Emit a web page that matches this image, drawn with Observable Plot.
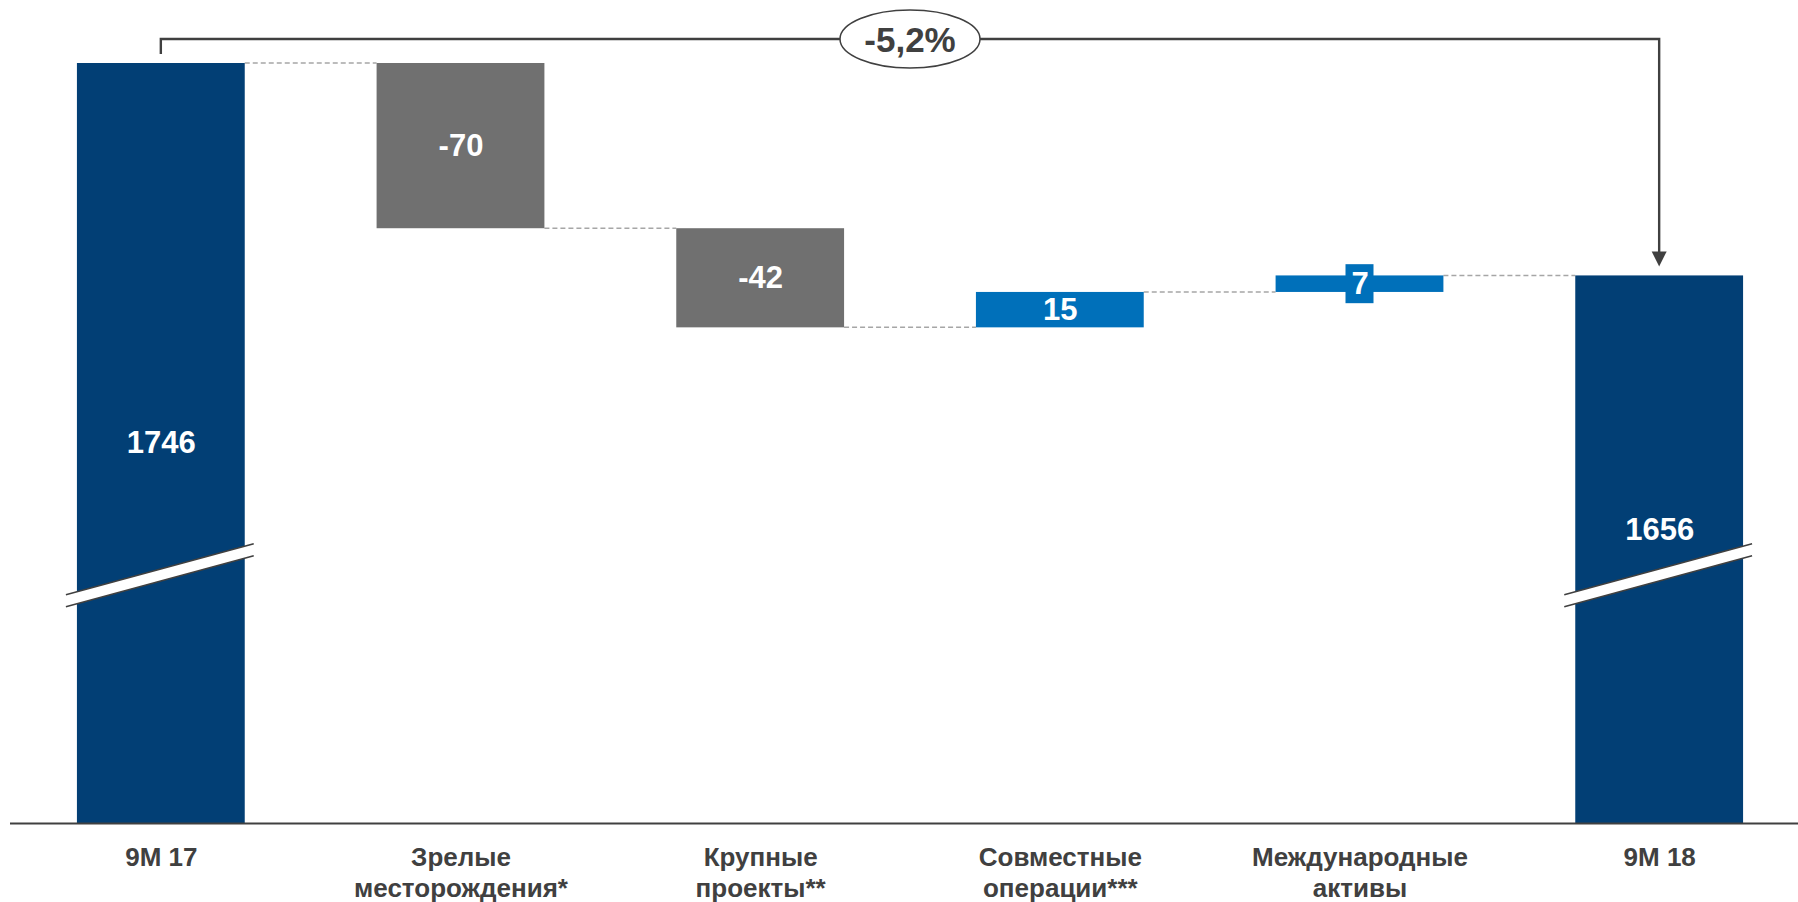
<!DOCTYPE html>
<html><head><meta charset="utf-8">
<script src="https://cdn.jsdelivr.net/npm/d3@7"></script>
<script src="https://cdn.jsdelivr.net/npm/@observablehq/plot@0.6"></script>
<style>
html,body{margin:0;padding:0;background:#fff;}
#chart svg{display:block;}
</style></head><body><div id="chart"></div>
<script>
// ---- data ----
const categories = ["9M 17", "Зрелые месторождения*", "Крупные проекты**", "Совместные операции***", "Международные активы", "9M 18"];
const axisLabels = ["9M 17", "Зрелые\nместорождения*", "Крупные\nпроекты**", "Совместные\nоперации***", "Международные\nактивы", "9M 18"];
const kinds = ["total", "delta", "delta", "delta", "delta", "total"];
const values = [1746, -70, -42, 15, 7, 1656];
const changeLabel = "-5,2%";
const axisFloor = 1424;   // value at the (broken) baseline
const breakAt = 1529;     // where the axis break is drawn on total bars

// ---- build waterfall table ----
let run = 0;
const rows = categories.map((cat, i) => {
  let y1, y2;
  if (kinds[i] === "total") { y1 = axisFloor; y2 = values[i]; run = values[i]; }
  else { y1 = run; y2 = run + values[i]; run = y2; }
  const kind = kinds[i] === "total" ? "total" : (values[i] < 0 ? "neg" : "pos");
  return {cat, i, y1, y2, end: run, kind, label: String(values[i])};
});

const DARK = "#404040";
const FONT = "'Liberation Sans', Arial, Helvetica, sans-serif";

function band(scales) {
  const sx = scales.x;
  const bw = typeof sx.bandwidth === "function" ? sx.bandwidth() : 0;
  return {sx, bw, sy: scales.y};
}

// dashed connectors between bars
function connectors(index, scales) {
  const {sx, bw, sy} = band(scales);
  const g = d3.create("svg:g");
  for (let i = 0; i < rows.length - 1; i++) {
    const y = sy(rows[i].end);
    g.append("line")
      .attr("x1", sx(rows[i].cat) + bw).attr("x2", sx(rows[i + 1].cat))
      .attr("y1", y).attr("y2", y)
      .attr("stroke", "#A6A6A6").attr("stroke-width", 1.5).attr("stroke-dasharray", "5,3");
  }
  return g.node();
}

// axis-break marks on total bars
function breaks(index, scales) {
  const {sx, bw, sy} = band(scales);
  const g = d3.create("svg:g");
  const cy = sy(breakAt);
  rows.filter(d => d.kind === "total").forEach(d => {
    const xl = sx(d.cat) - 11, xr = sx(d.cat) + bw + 9;
    const t1 = cy + 19.5, t2 = cy - 31.5, b1 = cy + 31.5, b2 = cy - 19.5;
    g.append("polygon").attr("points", `${xl},${t1} ${xr},${t2} ${xr},${b2} ${xl},${b1}`).attr("fill", "#fff");
    g.append("line").attr("x1", xl).attr("y1", t1).attr("x2", xr).attr("y2", t2).attr("stroke", DARK).attr("stroke-width", 1.6);
    g.append("line").attr("x1", xl).attr("y1", b1).attr("x2", xr).attr("y2", b2).attr("stroke", DARK).attr("stroke-width", 1.6);
  });
  return g.node();
}

// background box behind labels of thin bars
function labelBoxes(index, scales) {
  const {sx, bw, sy} = band(scales);
  const g = d3.create("svg:g");
  rows.filter(d => d.kind !== "total" && Math.abs(sy(d.y1) - sy(d.y2)) < 25).forEach(d => {
    const cx = sx(d.cat) + bw / 2, cy = sy((d.y1 + d.y2) / 2);
    g.append("rect").attr("x", cx - 14).attr("y", cy - 19.5).attr("width", 28).attr("height", 39)
      .attr("fill", d.kind === "pos" ? "#0070BA" : "#707070");
  });
  return g.node();
}

// bracket with arrow and percentage change
function bracket(index, scales) {
  const {sx, bw, sy} = band(scales);
  const g = d3.create("svg:g");
  const first = rows[0], last = rows[rows.length - 1];
  const xa = sx(first.cat) + bw / 2, xb = sx(last.cat) + bw / 2;
  const top = sy(first.y2) - 24;
  const tip = sy(last.y2) - 9;
  g.append("path")
    .attr("d", `M${xa},${sy(first.y2) - 9}V${top}H${xb}V${tip - 14}`)
    .attr("fill", "none").attr("stroke", DARK).attr("stroke-width", 2.4);
  g.append("polygon").attr("points", `${xb - 7.5},${tip - 15} ${xb + 7.5},${tip - 15} ${xb},${tip}`).attr("fill", DARK);
  const mx = (xa + xb) / 2;
  g.append("ellipse").attr("cx", mx).attr("cy", top).attr("rx", 70).attr("ry", 29)
    .attr("fill", "#fff").attr("stroke", DARK).attr("stroke-width", 1.5);
  g.append("text").attr("x", mx).attr("y", top + 13).attr("text-anchor", "middle")
    .attr("font-family", FONT).attr("font-weight", "bold").attr("font-size", 35).attr("fill", DARK)
    .text(changeLabel);
  return g.node();
}

const chart = Plot.plot({
  width: 1798,
  height: 902,
  marginTop: 63,
  marginBottom: 79,
  marginLeft: 0,
  marginRight: 0,
  style: {fontFamily: FONT, background: "#fff", overflow: "visible"},
  x: {domain: categories, range: [11, 1809], paddingInner: 0.44, paddingOuter: 0.22, round: false, axis: null},
  y: {domain: [axisFloor, d3.max(rows, d => d.y2)], axis: null},
  color: {domain: ["total", "neg", "pos"], range: ["#023F75", "#707070", "#0070BA"]},
  marks: [
    connectors,
    Plot.barY(rows, {x: "cat", y1: "y1", y2: "y2", fill: "kind"}),
    Plot.ruleY([axisFloor], {stroke: DARK, strokeWidth: 2.2, insetLeft: 10}),
    breaks,
    labelBoxes,
    Plot.text(rows.filter(d => d.i !== rows.length - 1), {
      x: "cat", y: d => (d.y1 + d.y2) / 2, text: "label",
      fill: "#fff", fontSize: 31, fontWeight: "bold"
    }),
    Plot.text(rows.filter(d => d.i === rows.length - 1), {
      x: "cat", y: d => (d.y1 + d.y2) / 2, text: "label", dy: -20,
      fill: "#fff", fontSize: 31, fontWeight: "bold"
    }),
    Plot.text(rows, {
      x: "cat", y: axisFloor, text: d => axisLabels[d.i],
      lineAnchor: "top", dy: 21, lineHeight: 1.18,
      fill: DARK, fontSize: 26, fontWeight: "bold"
    }),
    bracket
  ]
});
document.getElementById("chart").appendChild(chart);
</script>
</body></html>
